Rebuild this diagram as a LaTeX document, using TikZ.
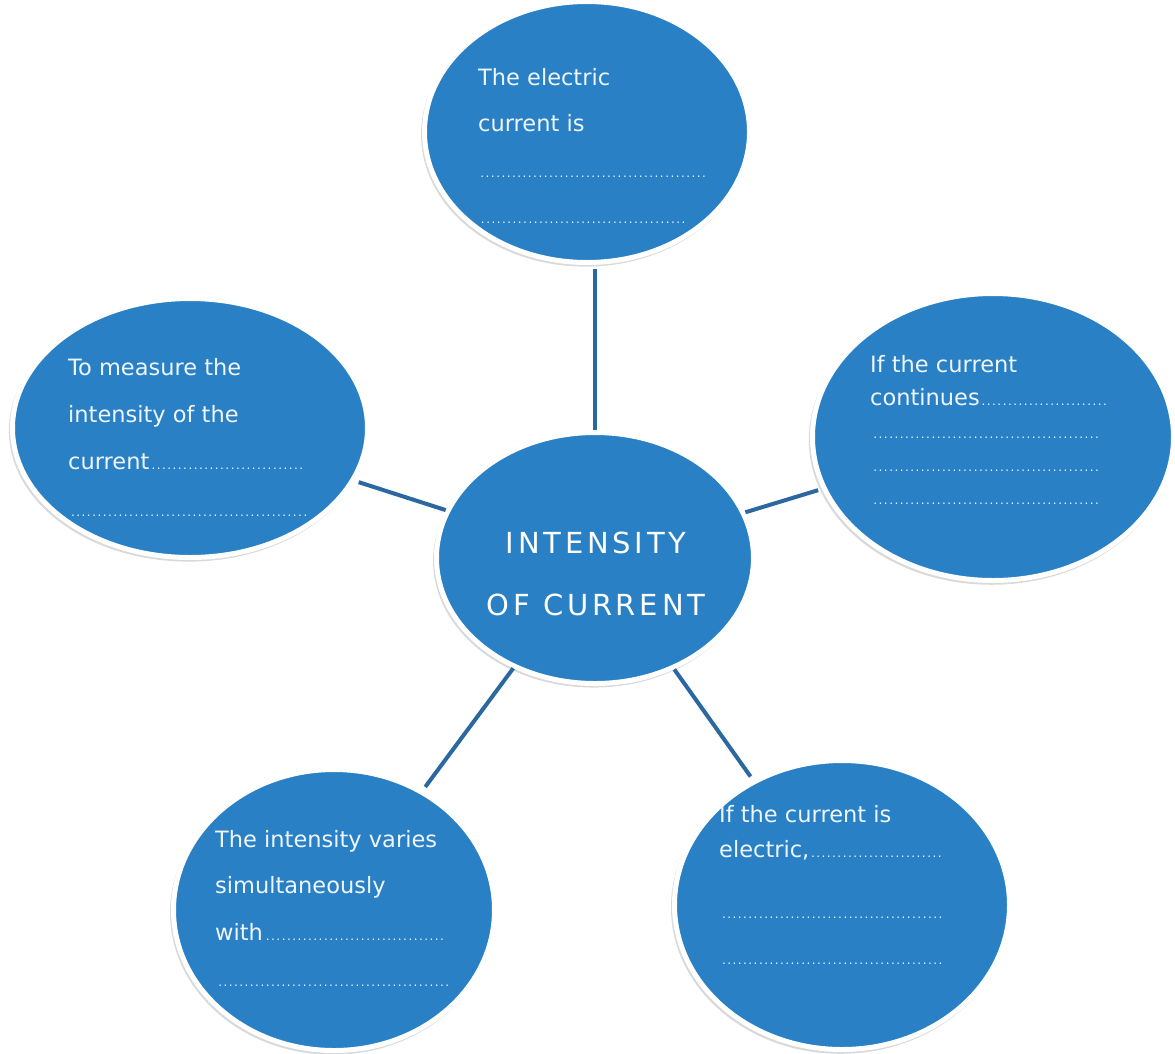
\documentclass[tikz,border=0pt]{standalone}
\usepackage{fontspec}
\setmainfont{DejaVu Sans}
\newfontfamily\hubfont[LetterSpace=13]{DejaVu Sans}
\usetikzlibrary{shapes.geometric,shadows}
\definecolor{bubbleblue}{RGB}{41,128,197}
\definecolor{linkblue}{RGB}{44,104,160}
\definecolor{chalk}{RGB}{238,246,252}
\newcommand{\dotsline}[1]{{\fontsize{12}{12}\selectfont\makebox[#1]{\dotfill}}}

\begin{document}
\begin{tikzpicture}[x=1pt, y=-1pt,
  bubble/.style={ellipse, fill=bubbleblue, draw=white, line width=5pt, inner sep=0pt,
    drop shadow={shadow xshift=-1.5pt, shadow yshift=-2.5pt, shadow scale=1.012,
      fill=black!25, opacity=0.6}},
  note/.style={anchor=north west, align=left, inner sep=0pt, text=chalk,
    font=\fontsize{22.5}{46}\selectfont},
  link/.style={draw=linkblue, line width=4pt, shorten >=4pt}]
  \useasboundingbox (0,0) rectangle (1175,1053);

  % Bubbles
  \node[bubble, minimum width=325, minimum height=261] (what) at (587,132) {};
  \node[bubble, minimum width=355, minimum height=259] (measure) at (190,428) {};
  \node[bubble, minimum width=361, minimum height=287] (cont) at (993,437) {};
  \node[bubble, minimum width=321, minimum height=281] (vary) at (334,910) {};
  \node[bubble, minimum width=335, minimum height=289] (elec) at (842,905) {};
  \node[bubble, minimum width=317, minimum height=251] (hub) at (595,558) {};

  % Connectors
  \draw[link] (hub.north) -- (hub.north |- what.south);
  \draw[link] (hub) -- (measure);
  \draw[link] (hub) -- (cont);
  \draw[link] (hub) -- (vary);
  \draw[link] (hub) -- (elec);

  % Texts (first baseline 17pt below the anchor)
  \node[text=white, align=center, inner sep=0pt,
    font=\hubfont\fontsize{29}{62}\selectfont] (hubT) at (596,574) {INTENSITY\\OF CURRENT};
  \node[note] (whatT) at (478,68)
    {The electric\\current is\\\dotsline{230pt}\\\dotsline{210pt}};
  \node[note, font=\fontsize{22.5}{47}\selectfont] (measureT) at (68,358)
    {To measure the\\intensity of the\\current\dotsline{156pt}\\\dotsline{242pt}};
  \node[note, font=\fontsize{22.5}{33}\selectfont] (contT) at (870,355)
    {If the current\\continues\dotsline{129pt}\\\dotsline{232pt}\\\dotsline{232pt}\\\dotsline{232pt}};
  \node[note, font=\fontsize{22.5}{46.5}\selectfont] (varyT) at (215,830)
    {The intensity varies\\simultaneously\\with\dotsline{184pt}\\\dotsline{237pt}};
  \node[note, font=\fontsize{22.5}{35}\selectfont] (elecT) at (719,805)
    {If the current is\\electric,\dotsline{134pt}\\[26pt]\dotsline{226pt}\\[11pt]\dotsline{226pt}};
\end{tikzpicture}
\end{document}
